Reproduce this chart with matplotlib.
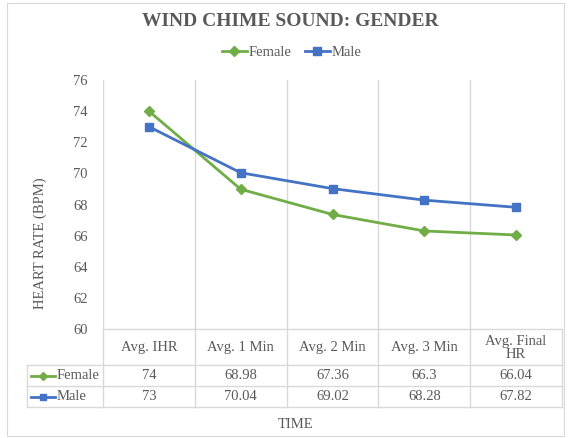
import numpy as np
import matplotlib.pyplot as plt
from matplotlib.lines import Line2D
from matplotlib.patches import Rectangle

# heart rate by time point, wind chime sound, split by gender
categories = ["Avg. IHR", "Avg. 1 Min", "Avg. 2 Min", "Avg. 3 Min", "Avg. Final\nHR"]
female = [74, 68.98, 67.36, 66.3, 66.04]
male = [73, 70.04, 69.02, 68.28, 67.82]
female_labels = ["74", "68.98", "67.36", "66.3", "66.04"]
male_labels = ["73", "70.04", "69.02", "68.28", "67.82"]
y_ticks = [60, 62, 64, 66, 68, 70, 72, 74, 76]

green = "#70ad47"
blue = "#4472c4"
grid = "#d9d9d9"
txt = "#595959"
serif = "Liberation Serif"

W, H = 569, 438
fig = plt.figure(figsize=(W / 100, H / 100), dpi=100)

def box(x0, y0, x1, y1):
    # pixel box (top-left origin) -> figure fraction rect
    return [x0 / W, 1 - y1 / H, (x1 - x0) / W, (y1 - y0) / H]

# outer chart border
fig.patches.append(Rectangle((7 / W, 1 - 436 / H), 557 / W, 433 / H,
                             transform=fig.transFigure, fill=False,
                             edgecolor="#d9d9d9", lw=0.8))

px0, px1, py0, py1 = 103, 562, 80, 329
n = len(categories)
ax = fig.add_axes(box(px0, py0, px1, py1))
x = np.arange(n) + 0.5
ax.plot(x, female, color=green, lw=2, marker="D", ms=5, label="Female")
ax.plot(x, male, color=blue, lw=2, marker="s", ms=6, label="Male")
ax.set_xlim(0, n)
ax.set_ylim(60, 76)
ax.set_yticks(y_ticks)
ax.set_xticks(range(n + 1))
ax.xaxis.grid(True, color=grid, lw=1)
ax.tick_params(axis="x", length=0, labelbottom=False)
ax.tick_params(axis="y", length=0, labelsize=10.5, colors=txt, pad=11)
for lab in ax.get_yticklabels():
    lab.set_fontfamily(serif)
for s in ax.spines.values():
    s.set_visible(False)

# data table under the plot
tx0, ty1 = 27, 407
col_w = (px1 - px0) / n
tab = fig.add_axes(box(tx0, py1, px1, ty1))
tab.set_xlim(-(px0 - tx0) / col_w, n)
tab.set_ylim(ty1 - py1, 0)
tab.axis("off")
hdr, row = 36, 21
kx = tab.get_xlim()[0]
lk = dict(color=grid, lw=1, clip_on=False)
tab.plot([0, n], [0, 0], **lk)
for yy in (hdr, hdr + row, hdr + 2 * row):
    tab.plot([kx, n], [yy, yy], **lk)
tab.plot([kx, kx], [hdr, hdr + 2 * row], **lk)
for i in range(n + 1):
    tab.plot([i, i], [0, hdr + 2 * row], **lk)
for i, c in enumerate(categories):
    tab.text(i + 0.5, hdr / 2 + 1, c, ha="center", va="center",
             fontsize=10.5, color=txt, family=serif, linespacing=1.1)
    tab.text(i + 0.5, hdr + row / 2, female_labels[i], ha="center",
             va="center", fontsize=10.5, color=txt, family=serif)
    tab.text(i + 0.5, hdr + row * 1.5, male_labels[i], ha="center",
             va="center", fontsize=10.5, color=txt, family=serif)

# legend keys in the table rows
for r, (name, col, mk, ms) in enumerate([("Female", green, "D", 4),
                                          ("Male", blue, "s", 5)]):
    yy = hdr + row * (r + 0.5)
    tab.plot([kx + 0.04, kx + 0.31], [yy, yy], color=col, lw=2, clip_on=False)
    tab.plot([kx + 0.175], [yy], color=col, marker=mk, ms=ms, clip_on=False)
    tab.text(kx + 0.32, yy, name, ha="left", va="center", fontsize=10.5,
             color=txt, family=serif)

# title, legend, axis titles
fig.text(290 / W, 1 - 22 / H, "WIND CHIME SOUND: GENDER",
         ha="center", va="center", fontsize=14, fontweight="bold",
         color=txt, family=serif)
handles = [Line2D([], [], color=green, lw=2, marker="D", ms=5),
           Line2D([], [], color=blue, lw=2, marker="s", ms=6)]
leg = fig.legend(handles, ["Female", "Male"], loc="center",
                 bbox_to_anchor=(292 / W, 1 - 52 / H), ncol=2, frameon=False,
                 handlelength=1.7, handletextpad=0.15, columnspacing=0.9,
                 prop={"family": serif, "size": 10.5})
for t in leg.get_texts():
    t.set_color(txt)
fig.text(40 / W, 1 - 243 / H, "HEART RATE (BPM)", rotation=90,
         ha="center", va="center", fontsize=10.5, color=txt, family=serif)
fig.text(296 / W, 1 - 424 / H, "TIME", ha="center", va="center",
         fontsize=10.5, color=txt, family=serif)

fig.savefig("out.png", dpi=100)
